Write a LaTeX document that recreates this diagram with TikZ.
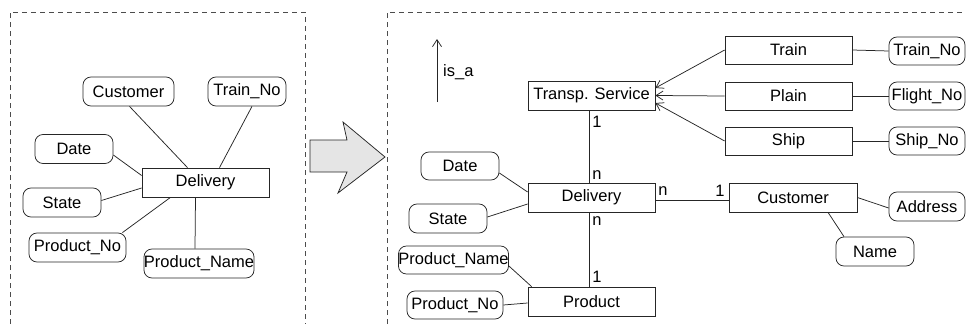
\documentclass[tikz,border=0pt]{standalone}
\usepackage{fontspec}
\setmainfont{Liberation Sans}
\usetikzlibrary{arrows.meta}
\begin{document}
\begin{tikzpicture}[x=1pt,y=-1pt,
  font=\fontsize{16.5}{19}\selectfont,
  ln/.style={draw=black!85, line width=0.75pt},
  ent/.style={draw=black!85, line width=0.75pt, inner sep=0pt, minimum height=29pt, minimum width=127pt},
  att/.style={draw=black!85, line width=0.75pt, rounded corners=8pt, inner sep=0pt, minimum height=29pt},
  lbl/.style={inner sep=0pt},
  isa/.style={ln, -{Straight Barb[length=7pt,width=9pt]}},
  frame/.style={draw=black!70, line width=0.75pt, dash pattern=on 5pt off 4pt}]
\useasboundingbox (0,0) rectangle (966,324);
% frames
\draw[frame] (10,324) -- (10,12) -- (305,12) -- (305,324);
\draw[frame] (387,324) -- (387,12) -- (966,12);
% block arrow
\draw[ln, fill=black!10] (310,140) -- (347,140) -- (343,122) -- (385,157) -- (338,193) -- (347,172) -- (310,172) -- cycle;
% left diagram
\node[att,minimum width=91pt] (lcust) at (128.5,91.5) {Customer};
\node[att,minimum width=78pt] (ltrain) at (247,91.5) {Train\_No};
\node[att,minimum width=78pt] (ldate) at (74,149) {Date};
\node[att,minimum width=78pt] (lstate) at (62,202.5) {State};
\node[att,minimum width=97pt] (lpno) at (77.5,247.5) {Product\_No};
\node[att,minimum width=110pt] (lpname) at (199,263.5) {Product\_Name};
\node[ent] (ldel) at (205.5,182.5) {Delivery};
\draw[ln] ([xshift=1pt]lcust.south) -- ([xshift=-18pt]ldel.north);
\draw[ln] ([xshift=5pt]ltrain.south) -- ([xshift=14pt]ldel.north);
\draw[ln] ([yshift=-6pt]ldate.east) -- ([yshift=7pt]ldel.west);
\draw[ln] ([yshift=2pt]lstate.east) -- ([yshift=-5.5pt]ldel.west);
\draw[ln] ([xshift=-4pt]lpno.north east) -- ([xshift=-35pt]ldel.south);
\draw[ln] ([xshift=-4pt]lpname.north) -- ([xshift=-10pt]ldel.south);
% right diagram
\node[ent] (ts) at (591.5,95.5) {Transp. Service};
\node[ent,minimum height=28pt] (train) at (788.5,50) {Train};
\node[ent,minimum height=28pt] (plain) at (788.5,96) {Plain};
\node[ent,minimum height=28pt] (ship) at (788.5,141) {Ship};
\node[att,minimum width=76pt,minimum height=28pt] (trainno) at (927,51) {Train\_No};
\node[att,minimum width=76pt,minimum height=28pt] (flightno) at (927,96) {Flight\_No};
\node[att,minimum width=76pt,minimum height=28pt] (shipno) at (927,141) {Ship\_No};
\node[ent] (del) at (591.5,197.5) {Delivery};
\node[ent] (prod) at (591.5,301.5) {Product};
\node[ent,minimum width=128pt] (cust) at (793,197.5) {Customer};
\node[att,minimum width=76pt] (addr) at (927,206.5) {Address};
\node[att,minimum width=78pt] (name) at (875,251.5) {Name};
\node[att,minimum width=78pt,minimum height=28pt] (rdate) at (460,166) {Date};
\node[att,minimum width=78pt] (rstate) at (448,218.5) {State};
\node[att,minimum width=109pt,minimum height=28pt] (rpname) at (453.5,260) {Product\_Name};
\node[att,minimum width=96pt,minimum height=28pt] (rpno) at (455,305) {Product\_No};
% is_a legend
\coordinate (isa0) at (437,102);
\coordinate (isa1) at (437,39);
\draw[isa] (isa0) -- (isa1);
\node[lbl,anchor=west] (isal) at (443,72) {is\_a};
% generalisation arrows
\draw[isa] (train.west) -- ([yshift=7.5pt]ts.east);
\draw[isa] (plain.west) -- (ts.east);
\draw[isa] (ship.west) -- ([yshift=-7.5pt]ts.east);
\draw[ln] (train.east) -- (trainno.west);
\draw[ln] (plain.east) -- (flightno.west);
\draw[ln] (ship.east) -- (shipno.west);
% relationships
\draw[ln] ([xshift=-2pt]ts.south) -- ([xshift=-2pt]del.north);
\draw[ln] ([xshift=-2pt]del.south) -- ([xshift=-2pt]prod.north);
\draw[ln] ([yshift=-2.5pt]del.east) -- ([yshift=-2.5pt]cust.west);
\node[lbl] (c1) at (597,122) {1};
\node[lbl] (c2) at (597,175) {n};
\node[lbl] (c3) at (597,221) {n};
\node[lbl] (c4) at (597,277) {1};
\node[lbl] (c5) at (663,191) {n};
\node[lbl] (c6) at (720,191) {1};
% attributes
\draw[ln] ([yshift=-7pt]rdate.east) -- ([yshift=5.5pt]del.west);
\draw[ln] ([yshift=1.5pt]rstate.east) -- ([yshift=-6.5pt]del.west);
\draw[ln] ([yshift=-6pt]rpname.east) -- ([xshift=4pt]prod.north west);
\draw[ln] (rpno.east) -- ([yshift=-1.5pt]prod.west);
\draw[ln] (cust.east) -- ([yshift=-1.5pt]addr.west);
\draw[ln] ([xshift=35pt]cust.south) -- ([xshift=-31pt]name.north);
\end{tikzpicture}
\end{document}
